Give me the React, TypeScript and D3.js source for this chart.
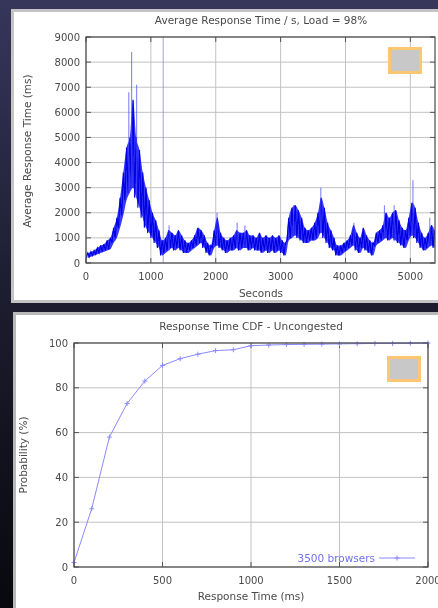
import { useEffect, useRef } from 'react';
import * as d3 from 'd3';

// ---- top chart: average response time, 50 s bins (low / high of the noisy band)
const binSeconds = d3.range(0, 5400, 50);
const bandLow = [
  200, 250, 300, 350, 400, 450, 500, 550, 800, 1000, 1400, 1900, 2500, 2800, 3000, 2600, 2200, 1800, 1400, 1200,
  1000, 800, 600, 300, 400, 500, 600, 500, 600, 500, 400, 400, 500, 600, 700, 800, 600, 400, 300, 600,
  700, 600, 500, 400, 500, 500, 600, 500, 600, 600, 500, 600, 500, 500, 400, 500, 400, 500, 400, 500,
  400, 300, 900, 1000, 1100, 1000, 900, 800, 800, 900, 900, 1000, 1200, 1000, 800, 600, 500, 300, 300, 400,
  500, 600, 700, 500, 400, 600, 500, 400, 300, 700, 800, 900, 1000, 900, 1000, 900, 800, 700, 600, 900,
  1100, 1000, 800, 600, 500, 600, 700, 600,
];
const bandHigh = [
  400, 450, 500, 600, 700, 750, 900, 1000, 1400, 1800, 2600, 3600, 4600, 5000, 6500, 5000, 4500, 3600, 3000, 2500,
  2000, 1700, 1300, 900, 1000, 1300, 1200, 1100, 1300, 1100, 900, 800, 900, 1100, 1400, 1300, 1100, 800, 700, 1300,
  1800, 1200, 1000, 900, 1000, 1100, 1300, 1200, 1200, 1300, 1100, 1100, 1000, 1200, 1000, 1100, 1000, 1100, 1000, 1100,
  900, 800, 1800, 2200, 2300, 2100, 1800, 1400, 1300, 1400, 1600, 2000, 2600, 2200, 1600, 1300, 1000, 700, 700, 800,
  900, 1100, 1500, 1200, 1000, 1400, 1100, 900, 800, 1200, 1300, 1500, 2000, 1800, 2000, 2100, 1700, 1400, 1300, 1800,
  2400, 2200, 1600, 1200, 1000, 1200, 1500, 1300,
];
const spikeSeconds = [660, 704, 781, 1280, 2020, 2330, 2450, 3200, 3620, 4130, 4600, 4750, 5040, 5300];
const spikeValues = [6800, 8400, 7100, 1500, 2000, 1600, 1500, 2300, 3000, 1600, 2300, 2300, 3300, 1800];
const outlierSeconds = [1190];
const topXTicks = [0, 1000, 2000, 3000, 4000, 5000];
const topYTicks = [0, 1000, 2000, 3000, 4000, 5000, 6000, 7000, 8000, 9000];

// ---- bottom chart: response time CDF
const cdfTimes = [0, 100, 200, 300, 400, 500, 600, 700, 800, 900, 1000, 1100, 1200, 1300, 1400, 1500, 1600, 1700, 1800, 1900, 2000];
const cdfValues = [2, 26, 58, 73, 83, 90, 93, 95, 96.6, 97, 98.8, 99.1, 99.3, 99.4, 99.5, 99.6, 99.7, 99.8, 99.8, 99.9, 100];
const botXTicks = [0, 500, 1000, 1500, 2000];
const botYTicks = [0, 20, 40, 60, 80, 100];

const FONT = '"DejaVu Sans", sans-serif';
const TEXT = '#4a4a4a';

export default function App() {
  const svgRef = useRef<SVGSVGElement>(null);

  useEffect(() => {
    if (!svgRef.current) return;
    const svg = d3.select(svgRef.current);
    svg.selectAll('*').remove();

    const defs = svg.append('defs');
    const grad = defs.append('linearGradient').attr('id', 'bg').attr('x1', 0).attr('y1', 0).attr('x2', 0).attr('y2', 1);
    grad.append('stop').attr('offset', '0%').attr('stop-color', '#36365c');
    grad.append('stop').attr('offset', '50%').attr('stop-color', '#1c1c2e');
    grad.append('stop').attr('offset', '100%').attr('stop-color', '#08080e');
    defs.append('filter').attr('id', 'soft')
      .append('feGaussianBlur').attr('stdDeviation', 0.45);

    svg.append('rect').attr('width', 438).attr('height', 608).attr('fill', 'url(#bg)');

    // white panels
    svg.append('rect').attr('x', 12.5).attr('y', 10.5).attr('width', 440).attr('height', 291)
      .attr('fill', '#fff').attr('stroke', '#c4c4c4').attr('stroke-width', 3);
    svg.append('rect').attr('x', 14.5).attr('y', 313.5).attr('width', 440).attr('height', 300)
      .attr('fill', '#fff').attr('stroke', '#b8b8b8').attr('stroke-width', 3);

    const drawFrame = (
      g: d3.Selection<SVGGElement, unknown, null, undefined>,
      x: d3.ScaleLinear<number, number>,
      y: d3.ScaleLinear<number, number>,
      xTicks: number[],
      yTicks: number[],
    ) => {
      const [x0, x1] = x.range();
      const [y0, y1] = y.range();
      // grid
      xTicks.forEach(t => {
        g.append('line').attr('x1', x(t)).attr('x2', x(t)).attr('y1', y0).attr('y2', y1)
          .attr('stroke', '#c2c2c2').attr('stroke-width', 1);
      });
      yTicks.forEach(t => {
        g.append('line').attr('x1', x0).attr('x2', x1).attr('y1', y(t)).attr('y2', y(t))
          .attr('stroke', '#c2c2c2').attr('stroke-width', 1);
      });
      // inward ticks on all sides
      xTicks.forEach(t => {
        g.append('line').attr('x1', x(t)).attr('x2', x(t)).attr('y1', y0).attr('y2', y0 - 5).attr('stroke', '#555');
        g.append('line').attr('x1', x(t)).attr('x2', x(t)).attr('y1', y1).attr('y2', y1 + 5).attr('stroke', '#555');
        g.append('text').attr('x', x(t)).attr('y', y0 + 17).attr('text-anchor', 'middle')
          .attr('font-family', FONT).attr('font-size', 10).attr('fill', TEXT).text(String(t));
      });
      yTicks.forEach(t => {
        g.append('line').attr('x1', x0).attr('x2', x0 + 5).attr('y1', y(t)).attr('y2', y(t)).attr('stroke', '#555');
        g.append('line').attr('x1', x1).attr('x2', x1 - 5).attr('y1', y(t)).attr('y2', y(t)).attr('stroke', '#555');
        g.append('text').attr('x', x0 - 6).attr('y', y(t)).attr('dy', '0.35em').attr('text-anchor', 'end')
          .attr('font-family', FONT).attr('font-size', 10).attr('fill', TEXT).text(String(t));
      });
    };

    const drawBorder = (
      g: d3.Selection<SVGGElement, unknown, null, undefined>,
      x: d3.ScaleLinear<number, number>,
      y: d3.ScaleLinear<number, number>,
    ) => {
      const [x0, x1] = x.range();
      const [y0, y1] = y.range();
      g.append('rect').attr('x', x0).attr('y', y1).attr('width', x1 - x0).attr('height', y0 - y1)
        .attr('fill', 'none').attr('stroke', '#4a4a4a').attr('stroke-width', 1.2);
    };

    const label = (
      g: d3.Selection<SVGGElement, unknown, null, undefined>,
      x: number, y: number, txt: string, rotate = false,
    ) => {
      g.append('text')
        .attr('transform', rotate ? `translate(${x},${y}) rotate(-90)` : `translate(${x},${y})`)
        .attr('text-anchor', 'middle').attr('dy', '0.35em')
        .attr('font-family', FONT).attr('font-size', 10.5).attr('fill', TEXT)
        .text(txt);
    };

    // ---------- top chart ----------
    const top = svg.append('g').attr('filter', 'url(#soft)');
    const tx = d3.scaleLinear().domain([0, 5380]).range([86, 435]);
    const ty = d3.scaleLinear().domain([0, 9000]).range([263, 37]);
    drawFrame(top, tx, ty, topXTicks, topYTicks);

    defs.append('clipPath').attr('id', 'topClip')
      .append('rect').attr('x', 86).attr('y', 37).attr('width', 349).attr('height', 226);
    const plot = top.append('g').attr('clip-path', 'url(#topClip)');

    // faint outlier spike running off the top
    outlierSeconds.forEach(s => {
      plot.append('line').attr('x1', tx(s)).attr('x2', tx(s)).attr('y1', ty(0)).attr('y2', ty(9000))
        .attr('stroke', '#8c8cc8').attr('stroke-width', 1).attr('opacity', 0.8);
    });

    const band = d3.area<number>()
      .x((_, i) => tx(binSeconds[i] + 25))
      .y0((_, i) => ty(bandLow[i]))
      .y1(d => ty(d))
      .curve(d3.curveMonotoneX);
    plot.append('path').datum(bandHigh).attr('d', band)
      .attr('fill', '#1414ff').attr('opacity', 0.85);

    const zigzag: [number, number][] = [];
    binSeconds.forEach((s, i) => {
      zigzag.push([s, bandLow[i]]);
      zigzag.push([s + 25, bandHigh[i]]);
    });
    const line = d3.line<[number, number]>().x(d => tx(d[0])).y(d => ty(d[1]));
    plot.append('path').datum(zigzag).attr('d', line)
      .attr('fill', 'none').attr('stroke', '#0000e0').attr('stroke-width', 1.1);

    spikeSeconds.forEach((s, i) => {
      const bin = Math.min(binSeconds.length - 1, Math.floor(s / 50));
      plot.append('line').attr('x1', tx(s)).attr('x2', tx(s))
        .attr('y1', ty(bandLow[bin])).attr('y2', ty(spikeValues[i]))
        .attr('stroke', '#4a4aff').attr('stroke-width', 1).attr('opacity', 0.75);
    });

    drawBorder(top, tx, ty);
    label(top, 261, 20, 'Average Response Time / s, Load = 98%');
    label(top, 261, 293, 'Seconds');
    label(top, 27, 151, 'Average Response Time (ms)', true);

    // covered legend
    svg.append('rect').attr('x', 389.5).attr('y', 48.5).attr('width', 31).attr('height', 24)
      .attr('fill', '#c8c8c8').attr('stroke', '#fcc672').attr('stroke-width', 3);

    // ---------- bottom chart ----------
    const bot = svg.append('g').attr('filter', 'url(#soft)');
    const bx = d3.scaleLinear().domain([0, 2000]).range([74, 428]);
    const by = d3.scaleLinear().domain([0, 100]).range([567, 343]);
    drawFrame(bot, bx, by, botXTicks, botYTicks);

    const cdfLine = d3.line<number>().x((_, i) => bx(cdfTimes[i])).y(d => by(d));
    bot.append('path').datum(cdfValues).attr('d', cdfLine)
      .attr('fill', 'none').attr('stroke', '#8a8aff').attr('stroke-width', 1);
    cdfValues.forEach((v, i) => {
      const cx = bx(cdfTimes[i]);
      const cy = by(v);
      bot.append('path').attr('d', `M${cx - 2.5},${cy}H${cx + 2.5}M${cx},${cy - 2.5}V${cy + 2.5}`)
        .attr('stroke', '#8a8aff').attr('stroke-width', 1);
    });

    drawBorder(bot, bx, by);
    label(bot, 251, 326, 'Response Time CDF - Uncongested');
    label(bot, 251, 596, 'Response Time (ms)');
    label(bot, 23, 455, 'Probability (%)', true);

    // legend
    bot.append('text').attr('x', 375).attr('y', 558).attr('dy', '0.35em').attr('text-anchor', 'end')
      .attr('font-family', FONT).attr('font-size', 10.5).attr('fill', '#7272f0').text('3500 browsers');
    bot.append('line').attr('x1', 379).attr('x2', 415).attr('y1', 558).attr('y2', 558)
      .attr('stroke', '#8a8aff').attr('stroke-width', 1);
    bot.append('path').attr('d', 'M394.5,558H399.5M397,555.5V560.5')
      .attr('stroke', '#8a8aff').attr('stroke-width', 1);

    svg.append('rect').attr('x', 388.5).attr('y', 357.5).attr('width', 31).attr('height', 23)
      .attr('fill', '#c8c8c8').attr('stroke', '#fcc672').attr('stroke-width', 3);
  }, []);

  return (
    <svg
      ref={svgRef}
      width={438}
      height={608}
      style={{ position: 'absolute', left: 0, top: 0, display: 'block' }}
    />
  );
}
